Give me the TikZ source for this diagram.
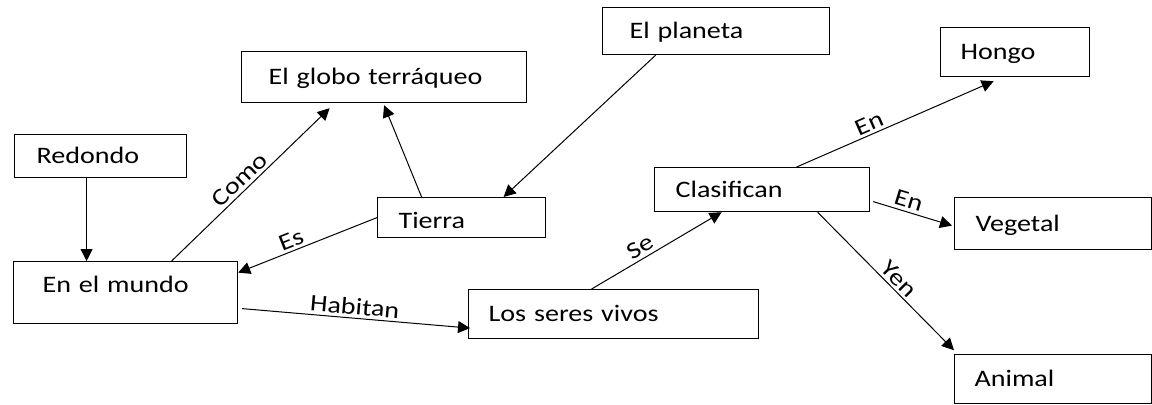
\documentclass[tikz,border=0pt]{standalone}
\usepackage{fontspec}
\setmainfont{Carlito}[FakeStretch=1.19]
\usetikzlibrary{positioning, calc, arrows.meta}

\begin{document}
\begin{tikzpicture}[x=0.5pt, y=-0.5pt, node distance=52pt, font=\fontsize{11.8}{14}\selectfont]
		% estilos de nodos y flechas
		\tikzstyle{box} = [rectangle, draw, line width=0.6pt, anchor=north west, align=left, inner xsep=10pt, inner ysep=0pt, text height=9pt, text depth=1.5pt]
		\tikzstyle{arrow} = [line width=0.5pt, -{Triangle[length=6pt, width=6pt]}]
		\tikzstyle{lbl} = [sloped, above, inner sep=1.5pt]
		
		\useasboundingbox (0,0) rectangle (1152,404);
		
		% nodos
		\node [box, minimum width=142.5pt, minimum height=25.5pt, inner xsep=13.5pt, text width=115.5pt] (globo) at (241,51) {El globo terráqueo};
		\node [box, minimum width=113.5pt, minimum height=23.5pt, inner xsep=13.5pt, text width=86.5pt] (planeta) at (602,7) {El planeta};
		\node [box, minimum width=74.5pt, minimum height=24.5pt, text width=54.5pt] (hongo) at (940,27) {Hongo};
		\node [box, minimum width=86pt, minimum height=21.5pt, inner xsep=11pt, text width=64pt] (redondo) at (14,134) {Redondo};
		\node [box, minimum width=84pt, minimum height=20pt, inner xsep=10.5pt, text width=63pt, text height=12.5pt] (tierra) at (377,197) {Tierra};
		\node [box, minimum width=107.5pt, minimum height=22pt, inner xsep=10.5pt, text width=86.5pt] (clasifican) at (654,167) {Clasifican};
		\node [box, minimum width=98.5pt, minimum height=26pt, inner xsep=10.5pt, text width=77.5pt] (vegetal) at (954,197) {Vegetal};
		\node [box, minimum width=98.5pt, minimum height=24.5pt, text width=78.5pt, below=52pt of vegetal.south west, anchor=north west] (animal) {Animal};
		\node [box, minimum width=112pt, minimum height=31pt, inner xsep=14.5pt, text width=83pt, text depth=9pt] (mundo) at (13,261) {En el mundo};
		\node [box, minimum width=145pt, minimum height=24.5pt, text width=125pt] (seres) at (468,289) {Los seres vivos};
		
		% flechas
		\draw [arrow] ($(redondo.south)+(-14,0)$) -- ($(mundo.north)+(-39,0)$);
		\draw [arrow] ($(mundo.north)+(46,0)$) -- node[lbl, pos=0.48] {Como} ($(globo.south)+(-54.5,5)$);
		\draw [arrow] ($(tierra.north)+(-40,0)$) -- ($(globo.south)+(0,2)$);
		\draw [arrow] ($(planeta.south)+(-60.5,0)$) -- ($(tierra.north)+(42,0)$);
		\draw [arrow] (tierra.west) -- node[lbl, pos=0.59] {Es} ($(mundo.east)+(0,-20)$);
		\draw [arrow] ($(mundo.east)+(4,16)$) -- node[lbl, pos=0.49] {Habitan} ($(seres.west)+(2,14)$);
		\draw [arrow] ($(seres.north)+(-22,0)$) -- node[lbl, pos=0.42] {Se} ($(clasifican.south)+(-40.5,0)$);
		\draw [arrow] ($(clasifican.north)+(34.5,0)$) -- node[lbl, pos=0.39] {En} ($(hongo.south)+(-21.5,4)$);
		\draw [arrow] ($(clasifican.east)+(3,12)$) -- node[lbl, pos=0.41] {En} ($(vegetal.west)+(-2,2)$);
		\draw [arrow] ($(clasifican.south)+(55.5,0)$) -- node[lbl, pos=0.54] {Yen} ($(animal.north west)+(0,-4)$);
\end{tikzpicture}
\end{document}
